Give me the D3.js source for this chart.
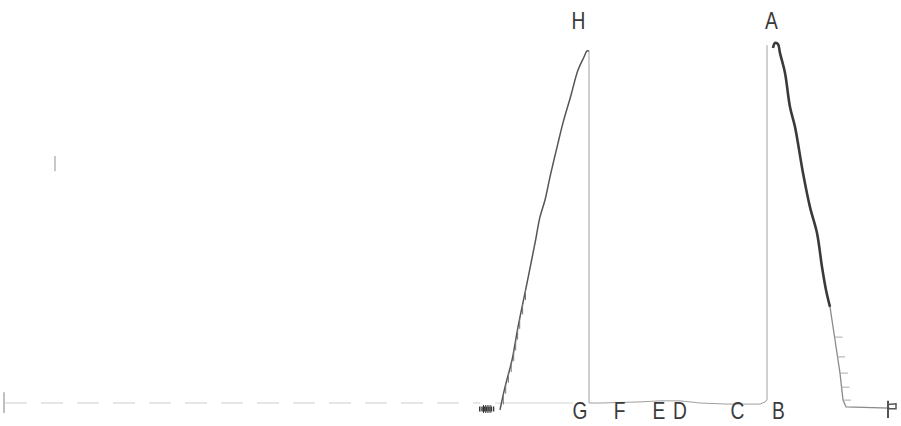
<!DOCTYPE html>
<html lang="en">
<head>
  <meta charset="utf-8">
  <script src="https://d3js.org/d3.v7.min.js"></script>
  <style>
    body { margin: 0; background: #fff; }
    svg { display: block; }
    text { font-family: "Liberation Sans", Arial, sans-serif; }
  </style>
</head>
<body>
  <svg id="chart" width="901" height="426"></svg>

  <script>
    // recorder trace: time (arb. units) vs deflection (% full scale)
    const riseT = [50.0, 50.5, 51.2, 51.8, 52.7, 53.5, 54.0, 54.5, 55.0, 55.8, 56.3, 57.1, 57.8, 58.4, 58.7, 58.9];
    const riseV = [-1.9, 4.4, 11.9, 21.1, 33.3, 44.4, 51.7, 56.4, 62.8, 72.2, 77.8, 85.5, 92.5, 96.1, 97.8, 97.8];

    const floorT = [58.9, 58.9, 60.0, 64.0, 66.0, 68.0, 70.0, 72.7, 76.0, 76.5, 76.7, 76.7];
    const floorV = [97.8, 0.0, 0.0, 0.3, 0.6, 0.6, 0.0, -0.3, -0.3, 0.3, 0.8, 99.4];

    const fallT = [77.3, 77.5, 77.8, 78.0, 78.5, 79.0, 79.5, 80.3, 81.0, 81.7, 82.2, 82.6, 83.0];
    const fallV = [98.6, 100.0, 99.7, 97.2, 91.7, 82.2, 76.7, 63.9, 54.4, 47.2, 37.8, 31.4, 26.7];

    const tailT = [83.0, 83.5, 84.0, 84.3, 84.6, 89.0];
    const tailV = [26.7, 17.5, 8.3, 0.8, -1.1, -1.4];

    // short hatch strokes on the slopes (time, deflection on the trace)
    const hatchRiseT = [50.23, 50.47, 50.74, 51.02, 51.27, 51.47, 51.66, 51.87, 52.16, 52.45];
    const hatchRiseV = [1, 4, 7, 10, 13, 16, 19, 22, 26, 30];
    const hatchFallT = [83.45, 83.7, 84.0, 84.15, 84.3];
    const hatchFallV = [18.3, 12.8, 8.3, 4.4, 0.8];

    const peakLabels = ["H", "A"];
    const peakLabelT = [57.85, 77.15];
    const floorLabels = ["G", "F", "E", "D", "C", "B"];
    const floorLabelT = [58.0, 61.95, 65.9, 68.0, 73.75, 77.85];

    const svg = d3.select("svg#chart");

    const x = d3.scaleLinear().domain([0, 90]).range([0, 900]);
    const y = d3.scaleLinear().domain([0, 100]).range([403, 43]);

    const line = d3.line()
      .x(d => x(d[0]))
      .y(d => y(d[1]));

    const smooth = d3.line()
      .x(d => x(d[0]))
      .y(d => y(d[1]))
      .curve(d3.curveCatmullRom.alpha(0.5));

    const zip = (a, b) => a.map((v, i) => [v, b[i]]);

    svg.append("rect").attr("width", 901).attr("height", 426).attr("fill", "#fff");

    // zero line before the run (dashed, faint)
    svg.append("path")
      .attr("d", line([[0.5, 0], [48, 0]]))
      .attr("fill", "none")
      .attr("stroke", "#cdcdcd")
      .attr("stroke-width", 1.2)
      .attr("stroke-dasharray", "22,14");

    svg.append("path")
      .attr("d", line([[49.5, 0], [57.3, 0]]))
      .attr("fill", "none")
      .attr("stroke", "#d4d4d4")
      .attr("stroke-width", 1);

    // start scribble
    svg.append("path")
      .attr("d", line([[47.9, -1.7], [49.5, -1.7]]))
      .attr("stroke", "#3a3a3a")
      .attr("stroke-width", 5)
      .attr("stroke-dasharray", "1.5,0.8");
    svg.append("path")
      .attr("d", line([[48.3, -1.7], [49.2, -1.7]]))
      .attr("stroke", "#333")
      .attr("stroke-width", 8)
      .attr("stroke-dasharray", "1,1.2");

    // left end tick
    svg.append("path")
      .attr("d", line([[0.4, 3], [0.4, -2.8]]))
      .attr("stroke", "#aaa")
      .attr("stroke-width", 1.5);

    // connecting verticals and G..B floor
    svg.append("path")
      .attr("d", line(zip(floorT, floorV)))
      .attr("fill", "none")
      .attr("stroke", "#a0a0a0")
      .attr("stroke-width", 1);

    // rising slope
    svg.append("path")
      .attr("d", smooth(zip(riseT, riseV)))
      .attr("fill", "none")
      .attr("stroke", "#555")
      .attr("stroke-width", 1.5);

    svg.append("g")
      .selectAll("line")
      .data(zip(hatchRiseT, hatchRiseV))
      .join("line")
      .attr("x1", d => x(d[0]) + 1)
      .attr("x2", d => x(d[0]) + 1)
      .attr("y1", d => y(d[1]) + 5)
      .attr("y2", d => y(d[1]) - 5)
      .attr("stroke", "#777")
      .attr("stroke-width", 1);

    // falling slope (heavy upper part, faint tail)
    svg.append("path")
      .attr("d", smooth(zip(fallT, fallV)))
      .attr("fill", "none")
      .attr("stroke", "#3a3a3a")
      .attr("stroke-width", 2.6);

    svg.append("path")
      .attr("d", line(zip(tailT, tailV)))
      .attr("fill", "none")
      .attr("stroke", "#8a8a8a")
      .attr("stroke-width", 1.3);

    svg.append("g")
      .selectAll("line")
      .data(zip(hatchFallT, hatchFallV))
      .join("line")
      .attr("x1", d => x(d[0]))
      .attr("x2", d => x(d[0]) + 8)
      .attr("y1", d => y(d[1]))
      .attr("y2", d => y(d[1]))
      .attr("stroke", "#aaa")
      .attr("stroke-width", 1);

    // end mark
    svg.append("path")
      .attr("d", line([[88.8, 0.6], [88.8, -4.2]]))
      .attr("stroke", "#555")
      .attr("stroke-width", 2);
    svg.append("path")
      .attr("d", line([[88.8, -0.4], [89.6, -0.2], [89.6, -1.6], [88.8, -1.6]]))
      .attr("fill", "none")
      .attr("stroke", "#555")
      .attr("stroke-width", 1.5);

    // faint stray mark on the left
    svg.append("path")
      .attr("d", line([[5.5, 68.6], [5.5, 64.4]]))
      .attr("stroke", "#c8c8c8")
      .attr("stroke-width", 2);

    // labels (narrow lettering)
    function labels(names, ts, ty) {
      svg.append("g")
        .selectAll("text")
        .data(names)
        .join("text")
        .attr("transform", (d, i) => `translate(${x(ts[i])},${ty}) scale(0.8,1)`)
        .attr("text-anchor", "middle")
        .attr("font-size", 24)
        .attr("fill", "#3a3a3a")
        .text(d => d);
    }
    labels(peakLabels, peakLabelT, y(100) - 14);
    labels(floorLabels, floorLabelT, y(0) + 16);
  </script>
</body>
</html>
